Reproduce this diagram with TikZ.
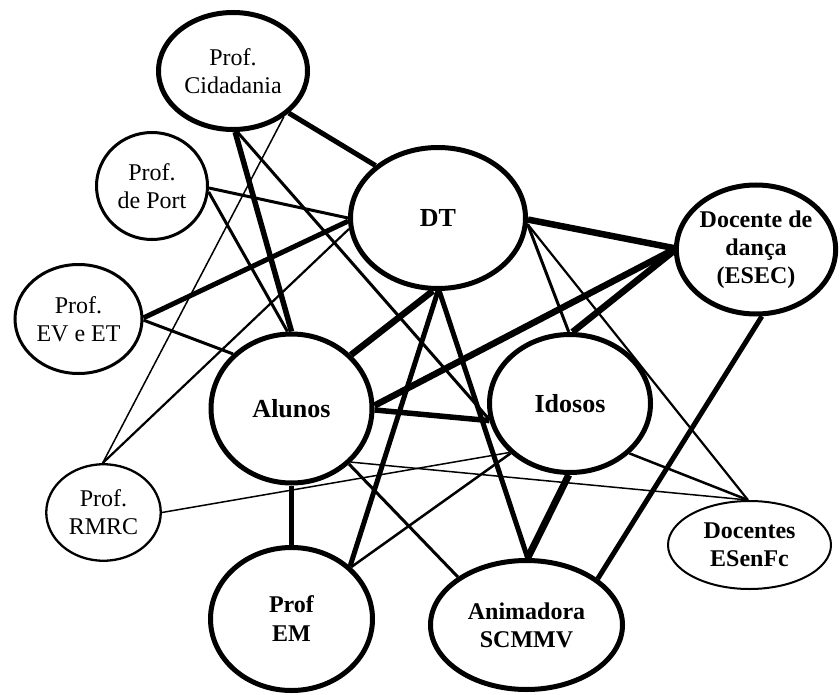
\documentclass[tikz,border=0pt]{standalone}
\usepackage{fontspec}
\setmainfont{Liberation Serif}
\usetikzlibrary{shapes.geometric}
\begin{document}
\begin{tikzpicture}[x=1pt,y=-1pt,
  actor/.style={ellipse,draw,inner sep=0pt,align=center,font=\fontsize{24}{28}\selectfont},
  thickb/.style={actor,line width=5pt},
  thinb/.style={actor,line width=3pt},
  hairb/.style={actor,line width=2.3pt},
  big/.style={font=\fontsize{26}{30}\selectfont\bfseries},
  ea/.style={line width=1.5pt},
  eb/.style={line width=2.2pt},
  ec/.style={line width=3pt},
  ed/.style={line width=5pt},
  ee/.style={line width=6.5pt}]
\useasboundingbox (0,0) rectangle (840,695);
% nodes
\node[thickb,minimum width=149pt,minimum height=117pt] (cid) at (233,71) {Prof.\\Cidadania};
\node[thinb,minimum width=111pt,minimum height=107pt] (port) at (152,186) {Prof.\\de Port};
\node[thinb,minimum width=127pt,minimum height=109pt] (ev) at (78.5,319) {Prof.\\EV e ET};
\node[thickb,minimum width=175pt,minimum height=141pt,big] (dt) at (438,218) {DT};
\node[thickb,minimum width=159pt,minimum height=129pt,font=\fontsize{24}{28}\selectfont\bfseries] (dan) at (756,249.5) {Docente de\\dança\\(ESEC)};
\node[thickb,minimum width=161pt,minimum height=149pt,big] (alu) at (291.5,408.5) {Alunos};
\node[thickb,minimum width=161pt,minimum height=138pt,big] (ido) at (570,403.5) {Idosos};
\node[hairb,minimum width=114.5pt,minimum height=96.5pt] (rmrc) at (103.5,512.5) {Prof.\\RMRC};
\node[actor,line width=2pt,minimum width=163pt,minimum height=88pt,font=\fontsize{24}{28}\selectfont\bfseries] (esen) at (749.5,545) {Docentes\\ESenFc};
\node[thickb,minimum width=162pt,minimum height=143pt,font=\fontsize{24}{29}\selectfont\bfseries] (em) at (291.5,619) {Prof\\EM};
\node[thickb,minimum width=192pt,minimum height=129pt,font=\fontsize{24}{28}\selectfont\bfseries] (ani) at (526.5,625) {Animadora\\SCMMV};
% edges
\draw[ed] (cid.-37.7) -- (dt.140.8);
\draw[ed,line width=5.5pt] (cid.-88) -- (alu.90);
\draw[ea] (cid.-42.6) -- (rmrc.91);
\draw[ec] (cid.-86) -- (ido.191.2);
\draw[ec] (port.-2) -- (dt.180);
\draw[ec] (port.-6.5) -- (alu.93.4);
\draw[ed] (ev.1.7) -- (dt.182.5);
\draw[ec] (ev.-1) -- (alu.137.6);
\draw[eb] (dt.187.5) -- (rmrc.91);
\draw[ee] (dt.-1.3) -- (dan.179);
\draw[ec] (dt.-4.4) -- (ido.91.6);
\draw[eb] (dt.-4.4) -- (esen.92);
\draw[ee] (dan.180.4) -- (alu.2.4);
\draw[ee] (dan.181.8) -- (ido.88.4);
\draw[ed] (dan.-85) -- (ani.33.1);
\draw[ee] (alu.42.5) -- (dt.-94);
\draw[ed] (dt.-90.8) -- (em.42.8);
\draw[ed] (dt.-89) -- (ani.89.6);
\draw[ed,line width=5.5pt] (alu.-1) -- (ido.192.6);
\draw[ea] (alu.-42.6) -- (esen.92);
\draw[ea] (rmrc.0.5) -- (ido.219.3);
\draw[ec] (alu.-44) -- (ani.145.5);
\draw[eb,line width=2.5pt] (ido.220.8) -- (em.41.8);
\draw[ed] (alu.south) -- (em.north);
\draw[line width=7pt] (ido.-91.6) -- (ani.89);
\draw[eb,line width=2.5pt] (ido.-40.6) -- (esen.92);
\end{tikzpicture}
\end{document}
